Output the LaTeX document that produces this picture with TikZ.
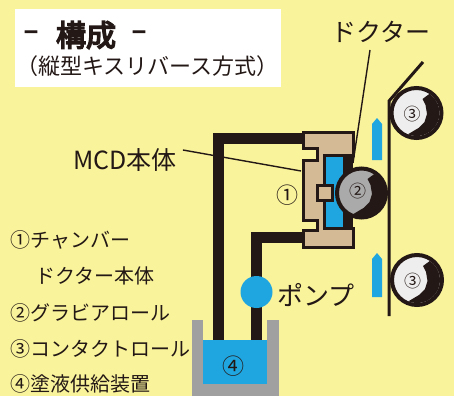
\documentclass[tikz,border=0pt]{standalone}
\usepackage{fontspec}
\setmainfont{Noto Sans CJK JP}
\newfontfamily\headfont[FakeBold=5]{Noto Sans CJK JP}
\definecolor{bg}{RGB}{249,243,155}
\definecolor{ink}{RGB}{35,24,21}
\definecolor{liquid}{RGB}{31,166,224}
\definecolor{tan}{RGB}{212,187,150}
\definecolor{gravure}{RGB}{170,170,170}
\definecolor{contact}{RGB}{238,238,238}
\definecolor{tank}{RGB}{160,160,160}
\tikzset{
  txt/.style={inner sep=0pt, text=ink},
  legend/.style={txt, anchor=west, font=\fontsize{20}{20}\selectfont},
  pipe/.style={draw=ink, line width=11pt, miter limit=10},
  outline/.style={draw=ink, line width=3pt, line join=miter},
  leader/.style={draw=ink, line width=1.4pt},
  flowarrow/.style={fill=liquid},
  rollnum/.style={txt, font=\fontsize{17}{17}\selectfont},
}
% roll cross-section with its dark sector
\newcommand{\rollshape}[3]{%
  \begin{scope}[shift={#1}]
    \filldraw[fill=#2, draw=ink, line width=4pt] (0,0) circle[radius=#3];
    \fill[ink] (6,-14) -- (-56:23) arc[start angle=-56, end angle=112, radius=23]
      -- (2,15) -- (8,9) -- (10.5,1) -- (9,-8) -- cycle;
  \end{scope}}
\begin{document}
\begin{tikzpicture}[x=1pt,y=-1pt]
\fill[bg] (0,0) rectangle (454,396);
\useasboundingbox (0,0) rectangle (454,396);

% heading box
\fill[white] (15,9) rectangle (281,87);
\node[txt, font=\headfont\fontsize{30}{30}\selectfont] (title) at (86,35) {構成};
\node[txt, font=\headfont\fontsize{26}{26}\selectfont] (dashL) at (31,35) {–};
\node[txt, font=\headfont\fontsize{26}{26}\selectfont] (dashR) at (139,35) {–};
\node[txt, font=\fontsize{22}{22}\selectfont] (subtitle) at (147.5,66) {（縦型キスリバース方式）};

% tank
\fill[tank] (192,320) rectangle (203,396);
\fill[tank] (267,320) rectangle (279,396);
\fill[tank] (192,384) rectangle (279,396);

% pipes
\coordinate (retEnd) at (218,340);
\coordinate (retCorner) at (218,138);
\coordinate (retIn) at (303,138);
\coordinate (supEnd) at (256.5,340);
\coordinate (supCorner) at (256.5,237.5);
\coordinate (supIn) at (303,237.5);
\draw[pipe] (retEnd) -- (retCorner) -- (retIn);
\draw[pipe] (supEnd) -- (supCorner) -- (supIn);

% coating liquid
\fill[liquid] (203,340) rectangle (267,384);
\node[txt, font=\fontsize{22}{22}\selectfont] (n4) at (233,366) {④};

% pump
\fill[liquid] (256.5,292) circle[radius=16];
\node[txt, font=\fontsize{26}{26}\selectfont] (pump) at (316,295) {ポンプ};

% chamber doctor body
\fill[ink] (344,155) rectangle (353,228);
\filldraw[fill=tan, outline] (303,132) -- (353,132) -- (353,155) -- (324,155)
  -- (324,228) -- (353,228) -- (353,247) -- (303,247) -- (303,230) -- (317,230)
  -- (317,220) -- (303,220) -- (303,160) -- (317,160) -- (317,148) -- (303,148) -- cycle;
\filldraw[fill=liquid, outline] (324,155) rectangle (344,228);
\filldraw[fill=tan, outline] (317,185) rectangle (332,200);
\node[txt, font=\fontsize{22}{22}\selectfont] (n1) at (287,195) {①};

% gravure roll
\rollshape{(361.5,193)}{gravure}{24.5}
\node[rollnum] (n2) at (357.5,191) {②};

% contact rolls
\rollshape{(416.5,113)}{contact}{25}
\node[rollnum] (n3a) at (412,114) {③};
\rollshape{(417,280)}{contact}{25}
\node[rollnum] (n3b) at (412.5,281) {③};

% web
\coordinate (webTop) at (423,62);
\coordinate (webTurn) at (389,101);
\coordinate (webEnd) at (389,316);
\draw[ink, line width=3pt] (webTop) -- (webTurn) -- (webEnd);

% travel arrows
\fill[flowarrow] (372,124) -- (377,118) -- (382,124) -- (382,160) -- (372,160) -- cycle;
\fill[flowarrow] (372,259) -- (377,253) -- (382,259) -- (382,297) -- (372,297) -- cycle;

% labels with leaders
\node[txt, font=\fontsize{25}{25}\selectfont] (doctor) at (381,32) {ドクター};
\coordinate (doctorTip) at (353,163);
\draw[leader] (370,50) -- (doctorTip);
\node[txt, font=\fontsize{25}{25}\selectfont] (mcd) at (125,160) {MCD本体};
\coordinate (mcdTip) at (301,171);
\draw[leader] (mcd.east) ++(6,-10) -- (mcdTip);

% legend
\node[legend] (l1) at (10,240) {①チャンバー};
\node[legend] (l1b) at (35,276) {ドクター本体};
\node[legend] (l2) at (10,313) {②グラビアロール};
\node[legend] (l3) at (10,349) {③コンタクトロール};
\node[legend] (l4) at (10,384) {④塗液供給装置};
\end{tikzpicture}
\end{document}
